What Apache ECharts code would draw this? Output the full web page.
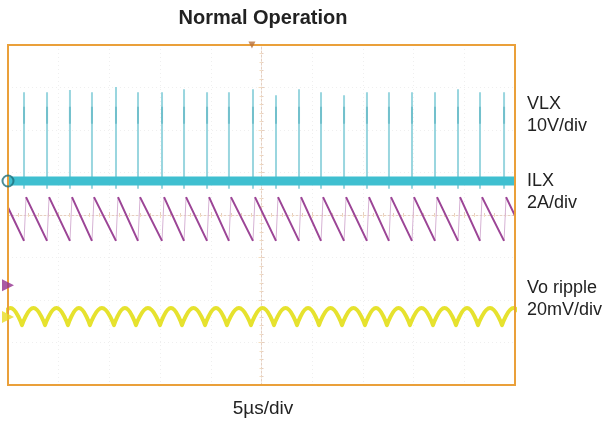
<!DOCTYPE html>
<html><head><meta charset="utf-8">
<script src="https://cdn.jsdelivr.net/npm/echarts@6/dist/echarts.min.js"></script>
<style>html,body{margin:0;padding:0;background:#fff}#c{width:606px;height:426px}</style>
</head><body><div id="c"></div>
<script>
// ---- text ----
const titleText = 'Normal Operation';
const xAxisText = '5µs/div';
const channelNames = ['VLX', 'ILX', 'Vo ripple'];
const channelScales = ['10V/div', '2A/div', '20mV/div'];

// ---- time axis (µs, centred on screen) and vertical divisions ----
const timeRange = [-25, 25];
const divRange = [-4, 4];

// ---- VLX: switching spikes (µs) and their peak level (div) ----
const vlxSpikeT = [-23.42, -21.15, -18.89, -16.72, -14.35, -12.18, -9.81, -7.64, -5.37, -3.21, -0.84,
                   1.43, 3.70, 5.87, 8.14, 10.40, 12.57, 14.84, 17.11, 19.38, 21.55, 23.92];
const vlxSpikeTop = [2.89, 2.89, 2.94, 2.89, 3.01, 2.89, 2.89, 2.96, 2.89, 2.89, 2.96,
                     2.82, 2.96, 2.89, 2.82, 2.89, 2.89, 2.89, 2.89, 2.96, 2.89, 2.89];
const vlxSpikeFoot = [0.62];
const vlxSpikeDense = [2.15, 2.55];
const vlxBaseT = [-25, 25];
const vlxBaseV = [0.80, 0.80];

// ---- ILX: sawtooth valley / peak times (µs) and levels (div) ----
const ilxValleyT = [-25.69, -23.42, -21.15, -18.89, -16.72, -14.35, -12.18, -9.81, -7.64, -5.37, -3.21, -0.84,
                    1.43, 3.70, 5.87, 8.14, 10.40, 12.57, 14.84, 17.11, 19.38, 21.55, 23.92, 26.19];
const ilxPeakT = [-25.49, -23.22, -20.95, -18.69, -16.52, -14.15, -11.98, -9.61, -7.44, -5.17, -3.01, -0.64,
                  1.63, 3.90, 6.07, 8.34, 10.60, 12.77, 15.04, 17.31, 19.58, 21.75, 24.12];
const ilxValleyV = [-0.61];
const ilxPeakV = [0.42];

// ---- Vo ripple: cusp (min) and crest times (µs) and levels (div) ----
const voCuspT = [-25.89, -23.62, -21.35, -19.09, -16.92, -14.55, -12.38, -10.01, -7.84, -5.57, -3.41, -1.04,
                 1.23, 3.50, 5.67, 7.94, 10.20, 12.37, 14.64, 16.91, 19.18, 21.35, 23.72, 25.99];
const voCrestT = [-24.76, -22.49, -20.22, -18.01, -15.74, -13.47, -11.20, -8.93, -6.71, -4.49, -2.23, 0.10,
                  2.37, 4.59, 6.81, 9.07, 11.29, 13.51, 15.78, 18.05, 20.27, 22.54, 24.86];
const voCuspV = [-2.59];
const voCrestV = [-2.19];

// ---- channel ground markers (div) ----
const markerLevels = [0.80, -1.65, -2.40];
const triggerT = [-0.94];

// ---- build series data ----
const spikeData = [], spikeDenseData = [];
vlxSpikeT.forEach((t, i) => {
  spikeData.push([t, vlxSpikeFoot[0]], [t, vlxSpikeTop[i]], [t, '-']);
  spikeDenseData.push([t, vlxSpikeDense[0]], [t, vlxSpikeDense[1]], [t, '-']);
});
const baseData = vlxBaseT.map((t, i) => [t, vlxBaseV[i]]);
const ilxFall = [], ilxRise = [];
ilxPeakT.forEach((t, i) => {
  ilxRise.push([ilxValleyT[i], ilxValleyV[0]], [t, ilxPeakV[0]], [t, '-']);
  ilxFall.push([t, ilxPeakV[0]], [ilxValleyT[i + 1], ilxValleyV[0]], [ilxValleyT[i + 1], '-']);
});
const voData = [];
voCrestT.forEach((t, i) => {
  voData.push([voCuspT[i], voCuspV[0]], [t, voCrestV[0]], [voCuspT[i + 1], voCuspV[0]], [voCuspT[i + 1], '-']);
});

const frameColor = '#eaa03a';
const font = '18px "Liberation Sans", Arial';
const chart = echarts.init(document.getElementById('c'), null, {renderer: 'canvas'});
const commonX = {type: 'value', min: timeRange[0], max: timeRange[1], interval: 5, axisLabel: {show: false}};
const commonY = {type: 'value', min: divRange[0], max: divRange[1], interval: 1, axisLabel: {show: false}};
chart.setOption({
  animation: false,
  backgroundColor: '#ffffff',
  grid: {left: 8, top: 45, width: 507, height: 340, show: true, borderColor: frameColor, borderWidth: 2,
    backgroundColor: 'transparent', z: 6},
  xAxis: [
    Object.assign({}, commonX, {
      axisLine: {show: true, onZero: true, lineStyle: {color: '#e6cfc0', width: 1, type: [2, 2]}},
      axisTick: {show: true, inside: true, length: 3, lineStyle: {color: '#e6cfc0'}},
      minorTick: {show: true, splitNumber: 5, length: 2, lineStyle: {color: '#e6cfc0'}},
      splitLine: {show: true, lineStyle: {color: '#efefef', type: [1, 3]}}}),
    Object.assign({}, commonX, {position: 'top',
      axisLine: {show: false},
      axisTick: {show: true, inside: true, length: 3, lineStyle: {color: '#f5dfc0'}},
      minorTick: {show: true, splitNumber: 5, length: 2, lineStyle: {color: '#f5dfc0'}},
      splitLine: {show: false}})
  ],
  yAxis: [
    Object.assign({}, commonY, {
      axisLine: {show: true, onZero: true, lineStyle: {color: '#e6cfc0', width: 1, type: [2, 2]}},
      axisTick: {show: true, inside: true, length: 3, lineStyle: {color: '#e6cfc0'}},
      minorTick: {show: true, splitNumber: 5, length: 2, lineStyle: {color: '#e6cfc0'}},
      splitLine: {show: true, lineStyle: {color: '#efefef', type: [1, 3]}}}),
    Object.assign({}, commonY, {position: 'right',
      axisLine: {show: false},
      axisTick: {show: true, inside: true, length: 3, lineStyle: {color: '#f5dfc0'}},
      minorTick: {show: true, splitNumber: 5, length: 2, lineStyle: {color: '#f5dfc0'}},
      splitLine: {show: false}})
  ],
  series: [
    {name: 'VLX base', type: 'line', data: baseData, symbol: 'none', z: 3,
      lineStyle: {color: '#3fbfd0', width: 9}},
    {name: 'VLX', type: 'line', data: spikeData, symbol: 'none', connectNulls: false, z: 2,
      lineStyle: {color: '#9ad6df', width: 2}},
    {name: 'VLX dense', type: 'line', data: spikeDenseData, symbol: 'none', connectNulls: false, z: 2,
      lineStyle: {color: '#72c0cc', width: 2}},
    {name: 'ILX rise', type: 'line', data: ilxRise, symbol: 'none', connectNulls: false, z: 4,
      lineStyle: {color: '#d6b2d4', width: 1}},
    {name: 'ILX', type: 'line', data: ilxFall, symbol: 'none', connectNulls: false, z: 4,
      lineStyle: {color: '#9c4596', width: 2}},
    {name: 'Vo', type: 'line', data: voData, symbol: 'none', smooth: 0.5, connectNulls: false, z: 5,
      lineStyle: {color: '#e6e22e', width: 4, cap: 'round', join: 'round'}},
    {name: 'markers', type: 'scatter', clip: false, z: 10, symbolSize: 11,
      data: [
        {value: [timeRange[0], markerLevels[0]], symbol: 'circle', itemStyle: {color: 'transparent', borderColor: '#1f6f7a', borderWidth: 2}},
        {value: [timeRange[0], markerLevels[1]], symbol: 'triangle', symbolSize: 12, symbolRotate: -90, itemStyle: {color: '#93318e'}},
        {value: [timeRange[0], markerLevels[2]], symbol: 'triangle', symbolSize: 12, symbolRotate: -90, itemStyle: {color: '#e8dc20'}}
      ]},
    {name: 'trigger', type: 'scatter', clip: false, z: 10, symbolSize: 7,
      data: [{value: [triggerT[0], divRange[1]], symbol: 'triangle', symbolRotate: 180, itemStyle: {color: '#b8703a'}}]}
  ],
  graphic: [
    {type: 'text', x: 263, y: 18, style: {text: titleText, font: 'bold 20px "Liberation Sans", Arial', fill: '#222', textAlign: 'center', textVerticalAlign: 'middle'}},
    {type: 'text', left: 527, top: 93, style: {text: channelNames[0] + '\n' + channelScales[0], font: font, fill: '#222', lineHeight: 22}},
    {type: 'text', left: 527, top: 170, style: {text: channelNames[1] + '\n' + channelScales[1], font: font, fill: '#222', lineHeight: 22}},
    {type: 'text', left: 527, top: 277, style: {text: channelNames[2] + '\n' + channelScales[2], font: font, fill: '#222', lineHeight: 22}},
    {type: 'text', x: 263, y: 409, style: {text: xAxisText, font: '19px "Liberation Sans", Arial', fill: '#222', textAlign: 'center', textVerticalAlign: 'middle'}}
  ]
});
</script>
</body></html>
